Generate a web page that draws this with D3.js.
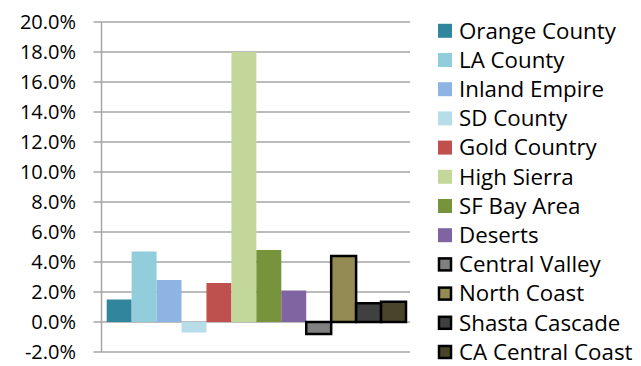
<!DOCTYPE html>
<html>
<head>
  <meta charset="utf-8">
  <style type="text/css">
    body { margin: 0; background: #fff; }
    svg { display: block; }
    text { font-family: "Open Sans", sans-serif; fill: #000; }
  </style>
</head>
<body>
<svg id="vis" width="641" height="366"></svg>

<script src="https://cdnjs.cloudflare.com/ajax/libs/d3/7.8.5/d3.min.js"></script>
<script type="text/javascript">
  // regions and their values (single category, one bar per region)
  var regions = ['Orange County', 'LA County', 'Inland Empire', 'SD County', 'Gold Country',
    'High Sierra', 'SF Bay Area', 'Deserts', 'Central Valley', 'North Coast',
    'Shasta Cascade', 'CA Central Coast']
  var values = [0.015, 0.047, 0.028, -0.007, 0.026, 0.180, 0.048, 0.021, -0.008, 0.044, 0.0125, 0.0135]
  var colors = ['#31859C', '#92CDDC', '#8EB4E3', '#B7DEE8', '#C0504D', '#C4D79B',
    '#77933C', '#8064A2', '#808080', '#948A54', '#404040', '#4A452A']
  var outlined = [false, false, false, false, false, false, false, false, true, true, true, true]
  var yTicks = [-0.02, 0, 0.02, 0.04, 0.06, 0.08, 0.10, 0.12, 0.14, 0.16, 0.18, 0.20]

  var svg = d3.select('#vis')
  var margin = { top: 22, right: 231, bottom: 14, left: 101.5 }
  var width = 641 - margin.left - margin.right
  var height = 366 - margin.top - margin.bottom

  var yScale = d3.scaleLinear()
    .domain([-0.02, 0.20])
    .range([margin.top + height, margin.top])

  var xScale = d3.scaleBand()
    .domain(regions)
    .range([margin.left + 5.2, margin.left + width - 4])

  // gridlines
  svg.append('g')
    .selectAll('line')
    .data(yTicks)
    .join('line')
      .attr('x1', margin.left - 8)
      .attr('x2', margin.left + width)
      .attr('y1', function(d) { return yScale(d) })
      .attr('y2', function(d) { return yScale(d) })
      .attr('stroke', '#a6a6a6')
      .attr('stroke-width', 1.5)

  // vertical axis line
  svg.append('line')
    .attr('x1', margin.left).attr('x2', margin.left)
    .attr('y1', margin.top).attr('y2', margin.top + height)
    .attr('stroke', '#a6a6a6')
    .attr('stroke-width', 1.5)

  // tick labels (plain hyphen for negatives, as in the original)
  svg.append('g')
    .selectAll('text')
    .data(yTicks)
    .join('text')
      .attr('x', 76)
      .attr('y', function(d) { return yScale(d) })
      .attr('dy', '0.36em')
      .attr('text-anchor', 'end')
      .style('font-size', '20px')
      .text(function(d) { return (d * 100).toFixed(1) + '%' })

  // bars
  svg.append('g')
    .selectAll('rect')
    .data(values)
    .join('rect')
      .attr('x', function(d, i) { return xScale(regions[i]) })
      .attr('width', xScale.bandwidth())
      .attr('y', function(d) { return yScale(Math.max(0, d)) })
      .attr('height', function(d) { return Math.abs(yScale(d) - yScale(0)) })
      .attr('fill', function(d, i) { return colors[i] })
      .attr('stroke', function(d, i) { return outlined[i] ? '#000' : 'none' })
      .attr('stroke-width', 2.5)

  // legend
  var legend = svg.append('g')
    .selectAll('g')
    .data(regions)
    .join('g')
      .attr('transform', function(d, i) { return 'translate(438,' + (30.8 + i * 29.2) + ')' })

  legend.append('rect')
    .attr('x', function(d, i) { return outlined[i] ? 1 : 0 })
    .attr('y', function(d, i) { return outlined[i] ? -6 : -7 })
    .attr('width', function(d, i) { return outlined[i] ? 12 : 14 })
    .attr('height', function(d, i) { return outlined[i] ? 12 : 14 })
    .attr('fill', function(d, i) { return colors[i] })
    .attr('stroke', function(d, i) { return outlined[i] ? '#000' : 'none' })
    .attr('stroke-width', 2.5)

  legend.append('text')
    .attr('x', 21)
    .attr('dy', '0.35em')
    .style('font-size', '22.3px')
    .text(function(d) { return d })
</script>
</body>
</html>
